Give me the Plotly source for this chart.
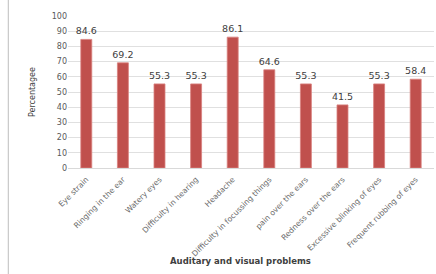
import plotly.graph_objects as go

categories = ["Eye strain", "Ringing in the ear", "Watery eyes", "Difficulty in hearing",
              "Headache", "Difficulty in focussing things", "pain over the ears",
              "Redness over the ears", "Excessive blinking of eyes", "Frequent rubbing of eyes"]
values = [84.6, 69.2, 55.3, 55.3, 86.1, 64.6, 55.3, 41.5, 55.3, 58.4]
y_ticks = [0, 10, 20, 30, 40, 50, 60, 70, 80, 90, 100]

fig = go.Figure()
fig.add_trace(go.Bar(
    x=categories, y=values,
    marker=dict(color="#C0504D", line=dict(color="#D9827F", width=0.8)),
    text=[f"{v:.1f}" for v in values], textposition="outside",
    textfont=dict(family="DejaVu Sans", size=9.5, color="#404040"),
    constraintext="none", cliponaxis=False,
))
fig.update_layout(
    width=436, height=274,
    margin=dict(l=68, r=2, t=16, b=106),
    plot_bgcolor="white", paper_bgcolor="white",
    bargap=0.7, showlegend=False,
    font=dict(family="DejaVu Sans", color="#595959"),
    xaxis=dict(tickangle=-45, tickfont=dict(size=7.7, color="#6a6a6a"),
               showline=True, linecolor="#D9D9D9", ticks="outside", ticklen=3,
               tickcolor="rgba(0,0,0,0)", automargin=False),
    yaxis=dict(range=[0, 100], tickvals=y_ticks, showgrid=True, gridcolor="#E0E0E0",
               tickfont=dict(size=8, color="#595959"), zeroline=False, automargin=False,
               ticks="", ticklen=0,
               title=dict(text="Percentagee", font=dict(size=8, color="#404040"), standoff=14)),
)
fig.add_annotation(text="<b>Auditary and visual problems</b>", xref="paper", yref="paper",
                   x=0.47, y=-0.612, xanchor="center", yanchor="middle", showarrow=False,
                   font=dict(size=8.5, color="#404040"))
fig.add_shape(type="line", xref="paper", yref="paper", x0=-0.163, x1=-0.163, y0=1.12, y1=-0.7,
              line=dict(color="#C8C8C8", width=1.2))
fig.write_html("out.html", config={"displayModeBar": False},
               post_script="document.body.style.margin='0';document.body.style.overflow='hidden';")
